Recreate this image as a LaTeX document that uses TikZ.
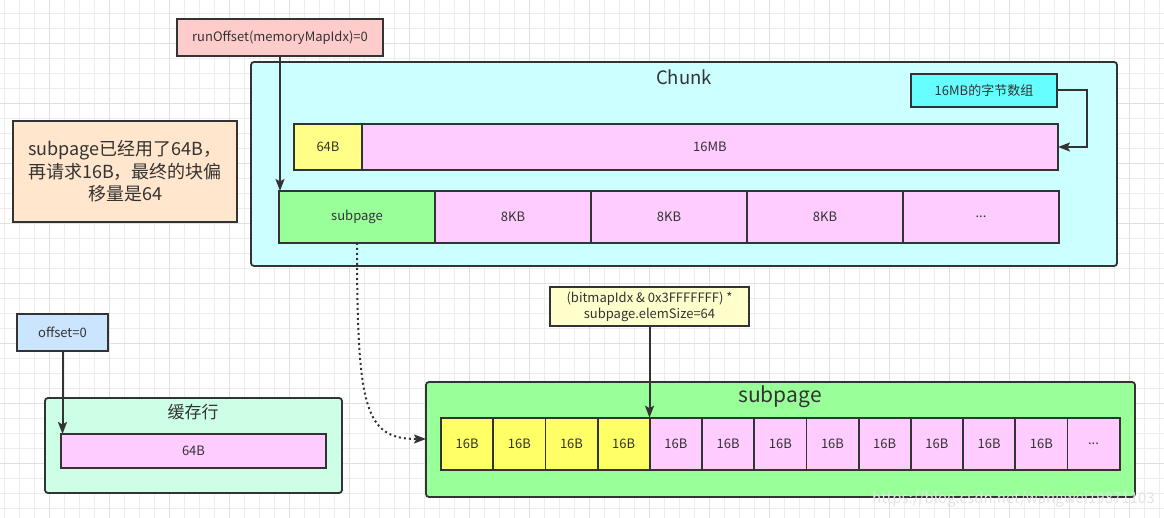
\documentclass[tikz,border=0pt]{standalone}
\usepackage{fontspec}
\setmainfont{Noto Sans CJK SC}
\usetikzlibrary{arrows.meta}
\definecolor{lc}{HTML}{333333}
\definecolor{tc}{HTML}{333333}
\definecolor{cpink}{HTML}{FFCCCC}
\definecolor{ccyan}{HTML}{CCFFFF}
\definecolor{ccyan2}{HTML}{66FFFF}
\definecolor{cyel}{HTML}{FFFF88}
\definecolor{cyel2}{HTML}{FFFF66}
\definecolor{cmag}{HTML}{FFCCFF}
\definecolor{cgreen}{HTML}{99FF99}
\definecolor{corange}{HTML}{FFE6CC}
\definecolor{cblue}{HTML}{CCE5FF}
\definecolor{cmint}{HTML}{CCFFE6}
\definecolor{cyelp}{HTML}{FFFFCC}
\definecolor{gminor}{HTML}{EDEDED}
\definecolor{gmajor}{HTML}{E0E0E0}
\definecolor{wmark}{HTML}{E4E4E4}
\begin{document}
\begin{tikzpicture}[x=1pt,y=-1pt,
  box/.style={draw=lc, line width=1.8pt, inner sep=0pt, outer sep=0pt, anchor=north west,
    text=tc, font=\fontsize{13}{15}\selectfont},
  cont/.style={box, rounded corners=3pt},
  ttl/.style={text=tc, inner sep=0pt},
  arr/.style={draw=lc, line width=2pt, -{Stealth[length=12pt,width=9pt,inset=2.5pt]}},
  gmin/.style={draw=gminor, line width=0.8pt},
  gmaj/.style={draw=gmajor, line width=0.9pt}]
\useasboundingbox (0,0) rectangle (1164,518);
\fill[white] (0,0) rectangle (1164,518);
% grid
\foreach \i in {0,...,77} \draw[gmin] ({4.5+15*\i},0) -- ({4.5+15*\i},518);
\foreach \j in {0,...,34} \draw[gmin] (0,{13.3+15*\j}) -- (1164,{13.3+15*\j});
\foreach \i in {0,...,19} \draw[gmaj] ({49.5+60*\i},0) -- ({49.5+60*\i},518);
\foreach \j in {0,...,8} \draw[gmaj] (0,{43.3+60*\j}) -- (1164,{43.3+60*\j});

% Chunk container
\node[cont, fill=ccyan, minimum width=866, minimum height=204] (chunk) at (251,62) {};
\node[ttl, font=\fontsize{18.5}{20}\selectfont] (chunkt) at (684,77) {Chunk};
\node[box, fill=ccyan2, minimum width=146, minimum height=33] (arr16) at (911,74) {16MB的字节数组};
\node[box, fill=cyel, minimum width=68, minimum height=46] (b64) at (294,124) {64B};
\node[box, fill=cmag, minimum width=696, minimum height=46] (b16m) at (362,124) {16MB};
\node[box, fill=cgreen, minimum width=156, minimum height=52] (sp) at (279,191) {subpage};
\node[box, fill=cmag, minimum width=156, minimum height=52] (k1) at (435,191) {8KB};
\node[box, fill=cmag, minimum width=156, minimum height=52] (k2) at (591,191) {8KB};
\node[box, fill=cmag, minimum width=156, minimum height=52] (k3) at (747,191) {8KB};
\node[box, fill=cmag, minimum width=156, minimum height=52] (k4) at (903,191) {...};

% runOffset
\node[box, fill=cpink, minimum width=206, minimum height=37] (runoff) at (177,19) {runOffset(memoryMapIdx)=0};

% note
\node[box, fill=corange, minimum width=224, minimum height=101, align=center,
  font=\fontsize{18}{22.6}\selectfont] (note) at (13,121) {subpage已经用了64B，\\再请求16B，最终的块偏\\移量是64};

% offset / cache line
\node[box, fill=cblue, minimum width=91, minimum height=37] (offs) at (17,314) {offset=0};
\node[cont, fill=cmint, minimum width=297, minimum height=95] (cline) at (45,398) {};
\node[ttl, font=\fontsize{17}{19}\selectfont] (clinet) at (193,412) {缓存行};
\node[box, fill=cmag, minimum width=265, minimum height=34] (cl64) at (61,434) {64B};

% subpage container
\node[cont, fill=cgreen, minimum width=709, minimum height=115] (spc) at (426,382) {};
\node[ttl, font=\fontsize{21}{23}\selectfont] (spct) at (780,397) {subpage};
\foreach \k in {1,...,13}{
  \ifnum\k<5 \def\cc{cyel2}\else\def\cc{cmag}\fi
  \ifnum\k=13 \def\lab{...}\else\def\lab{16B}\fi
  \node[box, fill=\cc, minimum width=52.2, minimum height=52.5] (c\k) at ({441+52.2*(\k-1)},417.7) {\lab};
}
\node[box, fill=cyelp, minimum width=199, minimum height=39, align=center,
  font=\fontsize{13}{16}\selectfont] (bm) at (550,287) {(bitmapIdx \& 0x3FFFFFFF) *\\subpage.elemSize=64};

% connectors
\draw[arr] (runoff.south) -- (runoff.south |- sp.north);
\draw[arr] (arr16.east) -- ++(30,0) |- (b16m.east);
\draw[arr] (offs.south) -- (offs.south |- cl64.north);
\draw[arr] (bm.south) -- (bm.south |- c5.north);
\draw[draw=lc, line width=2pt, dash pattern=on 2pt off 3pt,
  -{Stealth[length=12pt,width=9pt,inset=2.5pt]}]
  (sp.south -| 357,0) .. controls (357,410) and (365,439) .. (spc.west |- 0,439);

% watermark
\node[ttl, text=wmark, font=\fontsize{15}{17}\selectfont, anchor=west] (wm) at (872,499) {https://blog.csdn.net/wangwei19871103};
\end{tikzpicture}
\end{document}
